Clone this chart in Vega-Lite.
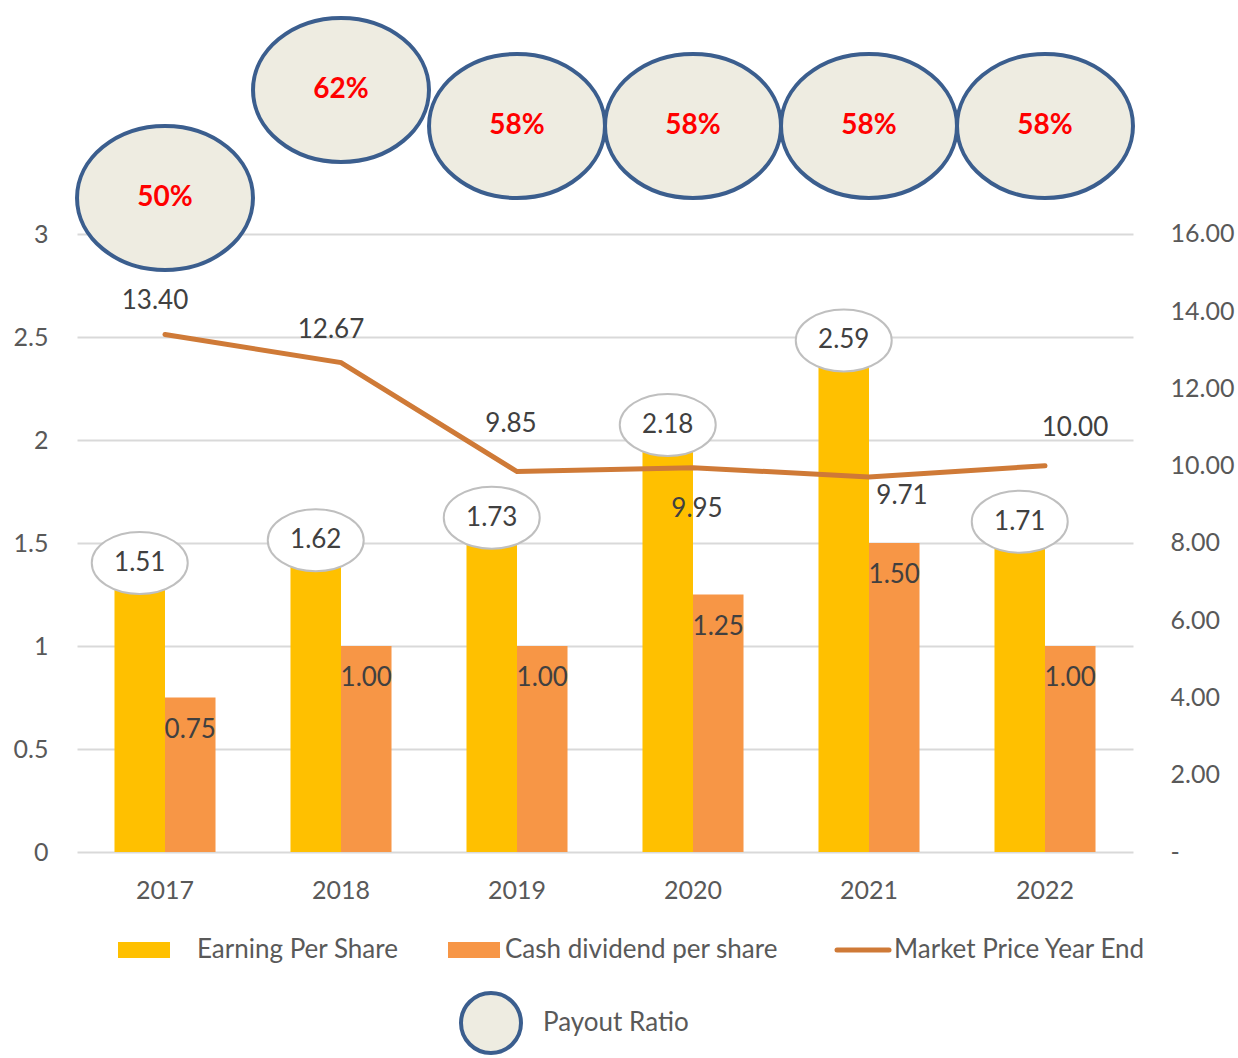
{
  "$schema": "https://vega.github.io/schema/vega-lite/v6.json",
  "width": 1056,
  "height": 845,
  "autosize": {"type": "none"},
  "padding": {"left": 77, "top": 7, "right": 105, "bottom": 206},
  "background": "white",
  "config": {"view": {"stroke": null}, "font": "Lato", "text": {"font": "Lato"}},
  "datasets": {
    "main": [
      {"year": "2017", "Earning Per Share": 1.51, "Cash dividend per share": 0.75, "price": 13.40, "payout": 0.50},
      {"year": "2018", "Earning Per Share": 1.62, "Cash dividend per share": 1.00, "price": 12.67, "payout": 0.62},
      {"year": "2019", "Earning Per Share": 1.73, "Cash dividend per share": 1.00, "price": 9.85, "payout": 0.58},
      {"year": "2020", "Earning Per Share": 2.18, "Cash dividend per share": 1.25, "price": 9.95, "payout": 0.58},
      {"year": "2021", "Earning Per Share": 2.59, "Cash dividend per share": 1.50, "price": 9.71, "payout": 0.58},
      {"year": "2022", "Earning Per Share": 1.71, "Cash dividend per share": 1.00, "price": 10.00, "payout": 0.58}
    ]
  },
  "data": {"name": "main"},
  "encoding": {
    "x": {
      "field": "year", "type": "nominal",
      "scale": {"paddingInner": 0.426, "paddingOuter": 0.213},
      "axis": {"title": null, "labelAngle": 0, "domain": false, "ticks": false, "labelPadding": 26, "labelFontSize": 25, "labelColor": "#595959", "labelFont": "Lato"}
    }
  },
  "layer": [
    {
      "layer": [
        {
          "transform": [{"fold": ["Earning Per Share", "Cash dividend per share"], "as": ["series", "value"]}],
          "mark": {"type": "bar"},
          "encoding": {
            "y": {
              "field": "value", "type": "quantitative",
              "scale": {"domain": [0, 4.102], "nice": false, "zero": true},
              "axis": {"orient": "left", "title": null, "values": [0, 0.5, 1, 1.5, 2, 2.5, 3], "format": "~g", "grid": true, "gridColor": "#D9D9D9", "gridWidth": 2, "domain": false, "ticks": false, "labelPadding": 29, "labelFontSize": 25, "labelColor": "#595959", "labelFont": "Lato"}
            },
            "xOffset": {"field": "series", "type": "nominal", "scale": {"domain": ["Earning Per Share", "Cash dividend per share"], "paddingInner": 0, "paddingOuter": 0}},
            "color": {
              "field": "series", "type": "nominal",
              "scale": {"domain": ["Earning Per Share", "Cash dividend per share", "Market Price Year End"], "range": ["#FFC000", "#F79646", "#CF7A37"]},
              "legend": {
                "title": null, "orient": "none", "legendX": 54, "legendY": 930, "direction": "horizontal",
                "symbolSize": 2704, "labelFontSize": 26, "labelColor": "#595959", "labelFont": "Lato",
                "labelOffset": 18, "columnPadding": 49, "labelLimit": 0, "padding": 0,
                "encode": {
                  "labels": {
                    "update": {
                      "dx": {"signal": "datum.value == 'Earning Per Share' ? 22 : 0"}
                    }
                  },
                  "symbols": {
                    "update": {
                      "shape": {"signal": "datum.value == 'Market Price Year End' ? 'stroke' : 'M-1,-0.31H1V0.31H-1Z'"},
                      "fill": {"signal": "datum.value == 'Market Price Year End' ? 'transparent' : scale('color', datum.value)"},
                      "stroke": {"signal": "scale('color', datum.value)"},
                      "strokeWidth": {"signal": "datum.value == 'Market Price Year End' ? 5 : 0"},
                      "strokeCap": {"value": "round"},
                      "opacity": {"value": 1}
                    }
                  }
                }
              }
            }
          }
        },
        {
          "transform": [
            {"fold": ["Earning Per Share", "Cash dividend per share"], "as": ["series", "value"]},
            {"filter": "datum.series == 'Earning Per Share'"}
          ],
          "mark": {"type": "point", "shape": "M-1.548,0A1.548,1,0,1,0,1.548,0A1.548,1,0,1,0,-1.548,0Z", "size": 3844, "filled": true, "fill": "white", "stroke": "#BFBFBF", "strokeWidth": 2, "opacity": 1, "yOffset": 22},
          "encoding": {
            "y": {"field": "value", "type": "quantitative"},
            "xOffset": {"field": "series", "type": "nominal"}
          }
        },
        {
          "transform": [
            {"fold": ["Earning Per Share", "Cash dividend per share"], "as": ["series", "value"]},
            {"filter": "datum.series == 'Earning Per Share'"}
          ],
          "mark": {"type": "text", "fontSize": 26, "color": "#404040", "baseline": "middle", "yOffset": 22, "font": "Lato"},
          "encoding": {
            "y": {"field": "value", "type": "quantitative"},
            "xOffset": {"field": "series", "type": "nominal"},
            "text": {"field": "value", "type": "quantitative", "format": ".2f"}
          }
        },
        {
          "transform": [
            {"fold": ["Earning Per Share", "Cash dividend per share"], "as": ["series", "value"]},
            {"filter": "datum.series == 'Cash dividend per share'"}
          ],
          "mark": {"type": "text", "fontSize": 26, "color": "#404040", "baseline": "middle", "yOffset": 32, "font": "Lato"},
          "encoding": {
            "y": {"field": "value", "type": "quantitative"},
            "xOffset": {"field": "series", "type": "nominal"},
            "text": {"field": "value", "type": "quantitative", "format": ".2f"}
          }
        }
      ]
    },
    {
      "layer": [
        {
          "mark": {"type": "line", "strokeWidth": 5, "strokeCap": "round"},
          "encoding": {
            "y": {
              "field": "price", "type": "quantitative",
              "scale": {"domain": [0, 21.877], "nice": false, "zero": true},
              "axis": {"orient": "right", "title": null, "values": [0, 2, 4, 6, 8, 10, 12, 14, 16], "labelExpr": "datum.value == 0 ? '-' : format(datum.value, '.2f')", "grid": false, "domain": false, "ticks": false, "labelPadding": 37, "labelFontSize": 25, "labelColor": "#595959", "labelFont": "Lato"}
            },
            "color": {"datum": "Market Price Year End", "type": "nominal"}
          }
        },
        {
          "transform": [{"filter": {"field": "year", "oneOf": ["2017", "2018"]}}],
          "mark": {"type": "text", "fontSize": 26, "color": "#404040", "baseline": "middle", "dy": -33, "dx": -10, "font": "Lato"},
          "encoding": {
            "y": {"field": "price", "type": "quantitative"},
            "text": {"field": "price", "type": "quantitative", "format": ".2f"}
          }
        },
        {
          "transform": [{"filter": {"field": "year", "oneOf": ["2019"]}}],
          "mark": {"type": "text", "fontSize": 26, "color": "#404040", "baseline": "middle", "dy": -48, "dx": -6, "font": "Lato"},
          "encoding": {
            "y": {"field": "price", "type": "quantitative"},
            "text": {"field": "price", "type": "quantitative", "format": ".2f"}
          }
        },
        {
          "transform": [{"filter": {"field": "year", "oneOf": ["2022"]}}],
          "mark": {"type": "text", "fontSize": 26, "color": "#404040", "baseline": "middle", "dy": -38, "dx": 30, "font": "Lato"},
          "encoding": {
            "y": {"field": "price", "type": "quantitative"},
            "text": {"field": "price", "type": "quantitative", "format": ".2f"}
          }
        },
        {
          "transform": [{"filter": {"field": "year", "oneOf": ["2020"]}}],
          "mark": {"type": "text", "fontSize": 26, "color": "#404040", "baseline": "middle", "dy": 41, "dx": 4, "font": "Lato"},
          "encoding": {
            "y": {"field": "price", "type": "quantitative"},
            "text": {"field": "price", "type": "quantitative", "format": ".2f"}
          }
        },
        {
          "transform": [{"filter": {"field": "year", "oneOf": ["2021"]}}],
          "mark": {"type": "text", "fontSize": 26, "color": "#404040", "baseline": "middle", "dy": 19, "dx": 33, "font": "Lato"},
          "encoding": {
            "y": {"field": "price", "type": "quantitative"},
            "text": {"field": "price", "type": "quantitative", "format": ".2f"}
          }
        }
      ]
    },
    {
      "layer": [
        {
          "mark": {"type": "point", "shape": "M-1.222,0A1.222,1,0,1,0,1.222,0A1.222,1,0,1,0,-1.222,0Z", "size": 20736, "filled": true, "stroke": "#3B5E8E", "strokeWidth": 4, "opacity": 1},
          "encoding": {
            "y": {"field": "payout", "type": "quantitative", "scale": {"domain": [-0.2267, 0.7122], "nice": false, "zero": false}, "axis": null},
            "fill": {
              "datum": "Payout Ratio", "type": "nominal",
              "scale": {"range": ["#EEECE1"]},
              "legend": {"title": null, "orient": "none", "legendX": 382, "legendY": 984, "symbolType": "circle", "symbolSize": 3600, "symbolStrokeColor": "#3B5E8E", "symbolStrokeWidth": 4, "symbolOpacity": 1, "labelOffset": 20, "labelFontSize": 26, "labelColor": "#595959", "labelFont": "Lato", "labelLimit": 0, "padding": 0}
            }
          }
        },
        {
          "mark": {"type": "text", "fontSize": 28, "fontWeight": "bold", "color": "#FF0000", "baseline": "middle", "font": "Lato"},
          "encoding": {
            "y": {"field": "payout", "type": "quantitative"},
            "text": {"field": "payout", "type": "quantitative", "format": ".0%"}
          }
        }
      ]
    }
  ],
  "resolve": {"scale": {"y": "independent"}}
}
